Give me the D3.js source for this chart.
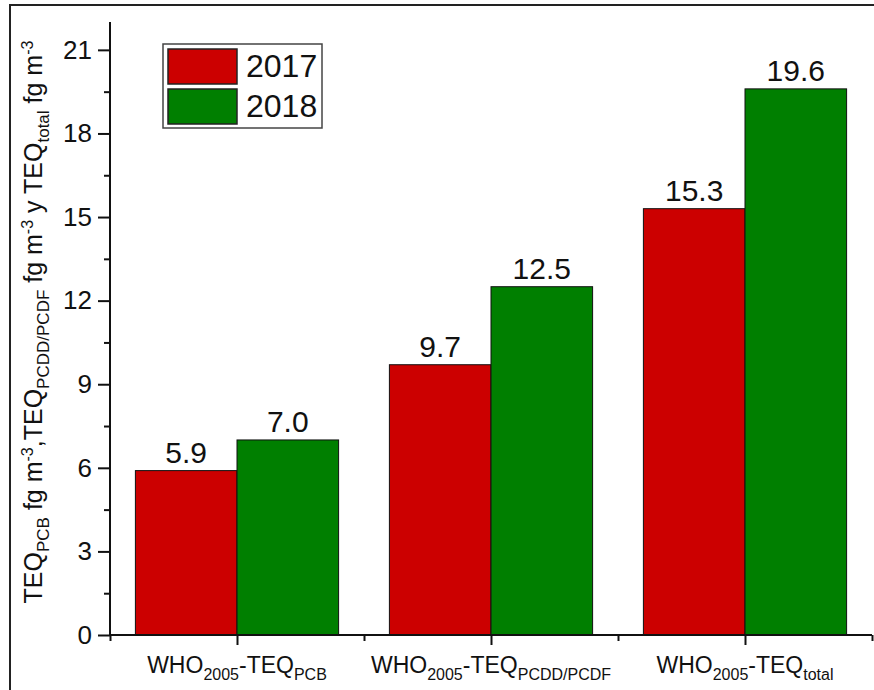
<!DOCTYPE html>
<html>
<head>
<meta charset="utf-8">
<script src="https://cdn.jsdelivr.net/npm/d3@7"></script>
<style>
  body { margin: 0; background: #fff; }
  text { font-family: "Liberation Sans", Arial, sans-serif; fill: #111; }
</style>
</head>
<body>
<div id="chart-area"></div>
<script>
// data
const subsNames = ["PCB", "PCDD/PCDF", "total"]
const years = ["2017", "2018"]
const values2017 = [5.9, 9.7, 15.3]
const values2018 = [7.0, 12.5, 19.6]
const yTicks = [0, 3, 6, 9, 12, 15, 18, 21]
const yMinorTicks = [1.5, 4.5, 7.5, 10.5, 13.5, 16.5, 19.5]
const colors = ["#CC0000", "#007F00"]

const W = 874
const H = 690
const MARGIN = { LEFT: 110, RIGHT: 2, TOP: 22, BOTTOM: 55 }

const svg = d3.select("#chart-area").append("svg")
  .attr("width", W)
  .attr("height", H)

// outer frame
svg.append("rect")
  .attr("x", 10).attr("y", 5)
  .attr("width", W + 20).attr("height", H + 20)
  .attr("fill", "none")
  .attr("stroke", "#222")
  .attr("stroke-width", 2)

// scales
const x = d3.scaleLinear().domain([0.5, 3.5]).range([MARGIN.LEFT, W - MARGIN.RIGHT])
const y = d3.scaleLinear().domain([0, 22]).range([H - MARGIN.BOTTOM, MARGIN.TOP])
const barW = x(0.4) - x(0)

const series = [values2017, values2018]

// bars
series.forEach((vals, s) => {
  svg.append("g").selectAll("rect")
    .data(vals)
    .enter().append("rect")
      .attr("x", (d, i) => x(i + 1) - barW + s * barW)
      .attr("y", d => y(d))
      .attr("width", barW)
      .attr("height", d => y(0) - y(d))
      .attr("fill", colors[s])
      .attr("stroke", "#111")
      .attr("stroke-width", 1)

  svg.append("g").selectAll("text")
    .data(vals)
    .enter().append("text")
      .attr("x", (d, i) => x(i + 1) - barW / 2 + s * barW)
      .attr("y", d => y(d) - 8)
      .attr("text-anchor", "middle")
      .attr("font-size", "30px")
      .text(d => d.toFixed(1))
})

// axes
const yAxis = svg.append("g")
  .attr("transform", `translate(${MARGIN.LEFT}, 0)`)
  .call(d3.axisLeft(y).tickValues(yTicks).tickSize(12).tickPadding(6).tickFormat(d3.format("d")))
yAxis.selectAll(".tick text").attr("font-size", "26px").style("font-family", "Liberation Sans, Arial, sans-serif")
svg.append("g")
  .attr("transform", `translate(${MARGIN.LEFT}, 0)`)
  .call(d3.axisLeft(y).tickValues(yMinorTicks).tickSize(6).tickFormat(""))
  .select(".domain").remove()

const xAxis = svg.append("g")
  .attr("transform", `translate(0, ${y(0)})`)
  .call(d3.axisBottom(x).tickValues([1, 2, 3]).tickSize(10).tickFormat(""))
svg.append("g")
  .attr("transform", `translate(0, ${y(0)})`)
  .call(d3.axisBottom(x).tickValues([0.5, 1.5, 2.5, 3.5]).tickSize(6).tickFormat(""))
  .select(".domain").remove()

svg.selectAll(".domain, .tick line").attr("stroke", "#111").attr("stroke-width", 2)
yAxis.select(".domain").attr("d", `M0,${y(0)}V${MARGIN.TOP}`)
xAxis.select(".domain").attr("d", `M${MARGIN.LEFT},0H${W - MARGIN.RIGHT}`)

// x category labels with subscripts
subsNames.forEach((name, i) => {
  const t = svg.append("text")
    .attr("x", x(i + 1))
    .attr("y", 673)
    .attr("text-anchor", "middle")
    .attr("font-size", "23px")
  t.append("tspan").text("WHO")
  t.append("tspan").attr("font-size", "16px").attr("dy", 7).text("2005")
  t.append("tspan").attr("dy", -7).text("-TEQ")
  t.append("tspan").attr("font-size", "16px").attr("dy", 7).text(name)
})

// y axis label
const yl = svg.append("text")
  .attr("transform", `translate(42, 322) rotate(-90)`)
  .attr("text-anchor", "middle")
  .attr("font-size", "25px")
const parts = [
  ["TEQ", 0, 25], ["PCB", 7, 17], [" fg m", -7, 25], ["-3", -9, 16], [",TEQ", 9, 25],
  ["PCDD/PCDF", 7, 17], [" fg m", -7, 25], ["-3", -9, 16], [" y TEQ", 9, 25],
  ["total", 7, 17], [" fg m", -7, 25], ["-3", -9, 16]
]
parts.forEach(p => {
  yl.append("tspan").attr("dy", p[1]).attr("font-size", p[2] + "px").text(p[0])
})

// legend
const lg = svg.append("g")
lg.append("rect")
  .attr("x", 163).attr("y", 44).attr("width", 159).attr("height", 84)
  .attr("fill", "#fff").attr("stroke", "#444").attr("stroke-width", 1.5)
years.forEach((yr, i) => {
  lg.append("rect")
    .attr("x", 168).attr("y", 49 + i * 40).attr("width", 69).attr("height", 35)
    .attr("fill", colors[i]).attr("stroke", "#222").attr("stroke-width", 1.5)
  lg.append("text")
    .attr("x", 246).attr("y", 77 + i * 40)
    .attr("font-size", "32px")
    .text(yr)
})
</script>
</body>
</html>
